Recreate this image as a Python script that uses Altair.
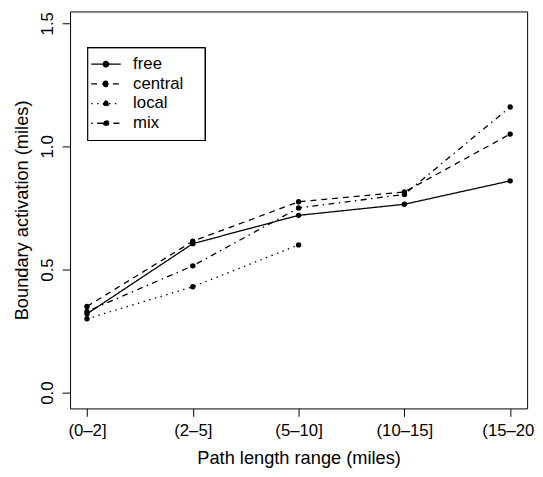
import altair as alt
import pandas as pd

categories = ["(0–2]", "(2–5]", "(5–10]", "(10–15]", "(15–20]"]
series = ["free", "central", "local", "mix"]
free = [0.32, 0.605, 0.72, 0.765, 0.86]
central = [0.35, 0.615, 0.775, 0.815, 1.05]
local = [0.30, 0.43, 0.60, None, None]
mix = [0.33, 0.515, 0.75, 0.805, 1.16]
y_ticks = [0.0, 0.5, 1.0, 1.5]

rows = []
for name, vals in zip(series, [free, central, local, mix]):
    for i, (cat, v) in enumerate(zip(categories, vals)):
        if v is not None:
            rows.append({"series": name, "idx": i + 1, "category": cat, "value": v})
df = pd.DataFrame(rows)

FONT = "Liberation Sans"
FS = 17
TFS = 18.5

label_expr = "[" + ",".join("'" + c + "'" for c in categories) + "][datum.value - 1]"

x = alt.X(
    "idx:Q",
    scale=alt.Scale(domain=[0.84, 5.16], nice=False, zero=False),
    axis=alt.Axis(
        values=list(range(1, len(categories) + 1)),
        labelExpr=label_expr,
        title="Path length range (miles)",
        grid=False, domain=False, tickSize=8, tickColor="black", tickWidth=1,
        labelFont=FONT, labelFontSize=FS, labelColor="black",
        labelBaseline="alphabetic", labelPadding=19, labelFlush=False, labelOverlap=False,
        titleFont=FONT, titleFontSize=TFS, titleFontWeight="normal", titleColor="black",
        titleBaseline="alphabetic", titleY=56,
    ),
)
y = alt.Y(
    "value:Q",
    scale=alt.Scale(domain=[-0.064, 1.548], nice=False, zero=False),
    axis=alt.Axis(
        values=y_ticks, format=".1f",
        title="Boundary activation (miles)",
        grid=False, domain=False, tickSize=8, tickColor="black", tickWidth=1,
        labelFont=FONT, labelFontSize=FS, labelColor="black",
        labelAngle=270, labelAlign="center", labelBaseline="alphabetic", labelPadding=10,
        labelFlush=False, labelOverlap=False,
        titleFont=FONT, titleFontSize=TFS, titleFontWeight="normal", titleColor="black",
        titleBaseline="alphabetic", titleAlign="center", titleAngle=270, titleX=-43,
    ),
)

dash_scale = alt.Scale(
    domain=series,
    range=[[1, 0], [6, 5], [1.5, 4.5], [1.5, 4.5, 6, 4.5]],
)

sym_path = "M-5.477,0H5.477M-1,0A1,1 0 1,0 1,0A1,1 0 1,0 -1,0Z"

# legend frame (R-style box around the legend)
legend_box = alt.Chart(df).mark_rect(
    fill="white", stroke="black", strokeWidth=1
).encode(
    x=alt.value(18), x2=alt.value(137), y=alt.value(37), y2=alt.value(131)
)

lines = alt.Chart(df).mark_line(color="black", strokeWidth=1.3).encode(
    x=x, y=y,
    strokeDash=alt.StrokeDash(
        "series:N", scale=dash_scale,
        legend=alt.Legend(
            title=None, orient="none", legendX=18, legendY=35,
            symbolType=sym_path, symbolSize=30,
            symbolStrokeColor="black", symbolFillColor="black", symbolStrokeWidth=1.3,
            symbolOpacity=1,
            labelFont=FONT, labelFontSize=FS, labelColor="black",
            labelOffset=19, padding=10, rowPadding=2,
        ),
    ),
)

points = alt.Chart(df).mark_point(filled=True, color="black", size=30, opacity=1).encode(
    x=x, y=y,
)

chart = (
    alt.layer(legend_box, lines, points)
    .properties(
        width=464, height=403,
        autosize=alt.AutoSizeParams(type="none"),
        padding={"left": 63, "top": 0, "right": 8, "bottom": 58},
        background="white",
    )
    .configure_view(stroke="black", strokeWidth=1)
)

chart.save("out.html", embed_options={"renderer": "svg", "actions": False})
